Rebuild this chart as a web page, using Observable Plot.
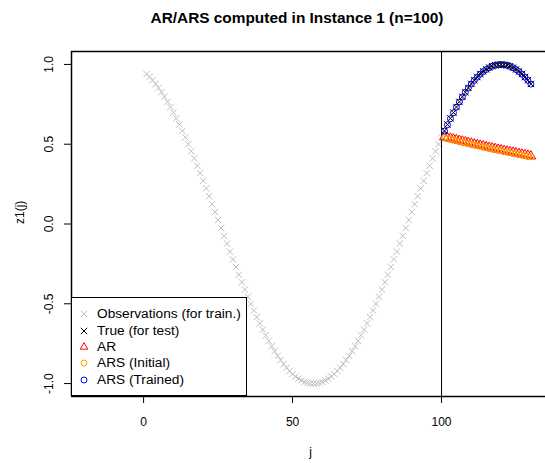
<!DOCTYPE html>
<html><head><meta charset="utf-8">
<script src="https://cdn.jsdelivr.net/npm/d3@7"></script>
<script src="https://cdn.jsdelivr.net/npm/@observablehq/plot@0.6"></script>
<style>
body{margin:0;background:#fff;font-family:"Liberation Sans",Arial,sans-serif;}
#wrap{position:relative;width:545px;height:463px;overflow:hidden;background:#fff;}
#title{height:35px;line-height:35px;font-weight:bold;font-size:15.4px;text-align:center;padding-left:49px;box-sizing:border-box;white-space:nowrap;color:#000;}
#legend{position:absolute;left:71px;top:297px;width:176px;height:99px;box-sizing:border-box;border:1px solid #000;background:#fff;font-size:13.7px;color:#000;}
.row{position:absolute;left:0;height:16px;line-height:16px;white-space:nowrap;}
.row svg{position:absolute;left:6px;top:2px;}
.row span{position:absolute;left:25px;top:0;}
</style></head><body>
<div id="wrap"><div id="title">AR/ARS computed in Instance 1 (n=100)</div><div id="chart"></div><div id="legend"></div></div>
<script>
// ---- data ----
const obsValues = [0.940,0.922,0.901,0.878,0.853,0.826,0.797,0.766,0.733,0.698,
0.662,0.624,0.584,0.543,0.500,0.456,0.411,0.365,0.319,0.271,
0.223,0.174,0.124,0.075,0.025,-0.025,-0.074,-0.123,-0.173,-0.222,
-0.270,-0.318,-0.365,-0.411,-0.456,-0.500,-0.542,-0.584,-0.623,-0.662,
-0.698,-0.733,-0.766,-0.797,-0.826,-0.853,-0.878,-0.901,-0.921,-0.940,
-0.956,-0.969,-0.980,-0.989,-0.995,-0.999,-1.000,-0.999,-0.995,-0.989,
-0.980,-0.969,-0.956,-0.940,-0.921,-0.901,-0.878,-0.853,-0.826,-0.797,
-0.766,-0.733,-0.698,-0.662,-0.623,-0.584,-0.542,-0.500,-0.456,-0.411,
-0.365,-0.318,-0.270,-0.222,-0.173,-0.123,-0.074,-0.025,0.025,0.075,
0.124,0.174,0.223,0.271,0.319,0.365,0.411,0.456,0.500,0.543];
const trueValues = [0.584,0.623,0.662,0.698,0.733,0.766,0.797,0.826,0.853,0.878,
0.901,0.921,0.940,0.956,0.969,0.980,0.989,0.995,0.999,1.000,
0.999,0.995,0.989,0.980,0.969,0.956,0.940,0.921,0.901,0.878];
const arValues = [0.545,0.540,0.536,0.531,0.527,0.522,0.518,0.513,0.509,0.505,
0.500,0.496,0.492,0.488,0.483,0.479,0.475,0.471,0.467,0.463,
0.459,0.455,0.452,0.448,0.444,0.440,0.436,0.433,0.429,0.425];
const arsInitialValues = [0.541,0.536,0.532,0.527,0.523,0.518,0.514,0.509,0.505,0.501,
0.496,0.492,0.488,0.484,0.479,0.475,0.471,0.467,0.463,0.459,
0.455,0.451,0.448,0.444,0.440,0.436,0.432,0.429,0.425,0.421];
const arsTrainedValues = [0.582,0.622,0.660,0.697,0.732,0.765,0.796,0.825,0.852,0.877,
0.900,0.920,0.939,0.955,0.968,0.979,0.988,0.994,0.998,0.999,
0.998,0.994,0.988,0.979,0.968,0.955,0.939,0.920,0.900,0.877];
const trainStart = 1, testStart = 101, splitAt = 100;
const xTicks = [0, 50, 100];
const yTicks = [-1, -0.5, 0, 0.5, 1];
const legendLabels = ["Observations (for train.)","True (for test)","AR","ARS (Initial)","ARS (Trained)"];
const legendColors = ["#bebebe","#000000","#ff0000","#ffa500","#0000ff"];
const legendSymbols = ["times","times","triangle","circle","circle"];

// ---- build tables ----
const obs = obsValues.map((z,i)=>({j: trainStart+i, z}));
const mk = arr => arr.map((z,i)=>({j: testStart+i, z}));
const truth = mk(trueValues), ar = mk(arValues), arsI = mk(arsInitialValues), arsT = mk(arsTrainedValues);

const xDomain = [-24.2, 134.9];
const yDomain = [-1.081, 1.081];
const R = 3, RT = 3.6;

const chart = Plot.plot({
  width: 545, height: 428,
  marginTop: 16, marginBottom: 67, marginLeft: 71, marginRight: 0,
  style: {fontFamily: "'Liberation Sans', Arial, sans-serif", fontSize: "12px", color: "#000", background: "#fff", overflow: "visible"},
  x: {domain: xDomain},
  y: {domain: yDomain},
  marks: [
    Plot.dot(obs, {x: "j", y: "z", symbol: "times", r: R, stroke: legendColors[0], strokeWidth: 1}),
    Plot.ruleX([splitAt], {stroke: "#000", strokeWidth: 1}),
    Plot.dot(ar, {x: "j", y: "z", symbol: "triangle", r: RT, stroke: legendColors[2], strokeWidth: 1}),
    Plot.dot(arsI, {x: "j", y: "z", symbol: "circle", r: R, stroke: legendColors[3], strokeWidth: 1}),
    Plot.dot(arsT, {x: "j", y: "z", symbol: "circle", r: R, stroke: legendColors[4], strokeWidth: 1}),
    Plot.dot(truth, {x: "j", y: "z", symbol: "times", r: R, stroke: legendColors[1], strokeWidth: 1}),
    Plot.ruleY(yDomain, {stroke: "#000", strokeWidth: 1.5}),
    Plot.ruleX([xDomain[0]], {stroke: "#000", strokeWidth: 1.5}),
    Plot.axisX({ticks: xTicks, tickSize: 7, tickPadding: 14, tickFormat: d => String(d), label: null}),
    Plot.axisY({ticks: yTicks, tickSize: 7, tickPadding: 12, tickRotate: -90, tickFormat: d => d.toFixed(1), label: null}),
    Plot.text(["z1(j)"], {text: d => d, frameAnchor: "left", dx: -51, rotate: -90}),
    Plot.text(["j"], {text: d => d, frameAnchor: "bottom", dx: 2, dy: 59})
  ]
});
document.getElementById("chart").appendChild(chart);

// ---- legend ----
const symMap = {times: d3.symbolTimes, triangle: d3.symbolTriangle2, circle: d3.symbolCircle};
const leg = d3.select("#legend");
const rowCenters = [16.3, 33, 49, 64.7, 82.3];
legendLabels.forEach((lab, i) => {
  const row = leg.append("div").attr("class", "row").style("top", (rowCenters[i] - 8) + "px").style("width", "174px");
  const r = legendSymbols[i] === "triangle" ? RT : R;
  const svg = row.append("svg").attr("width", 12).attr("height", 12).attr("viewBox", "-6 -6 12 12");
  svg.append("path").attr("d", d3.symbol(symMap[legendSymbols[i]], r * r * Math.PI)())
     .attr("fill", "none").attr("stroke", legendColors[i]).attr("stroke-width", 1);
  row.append("span").text(lab);
});
</script>
</body></html>
